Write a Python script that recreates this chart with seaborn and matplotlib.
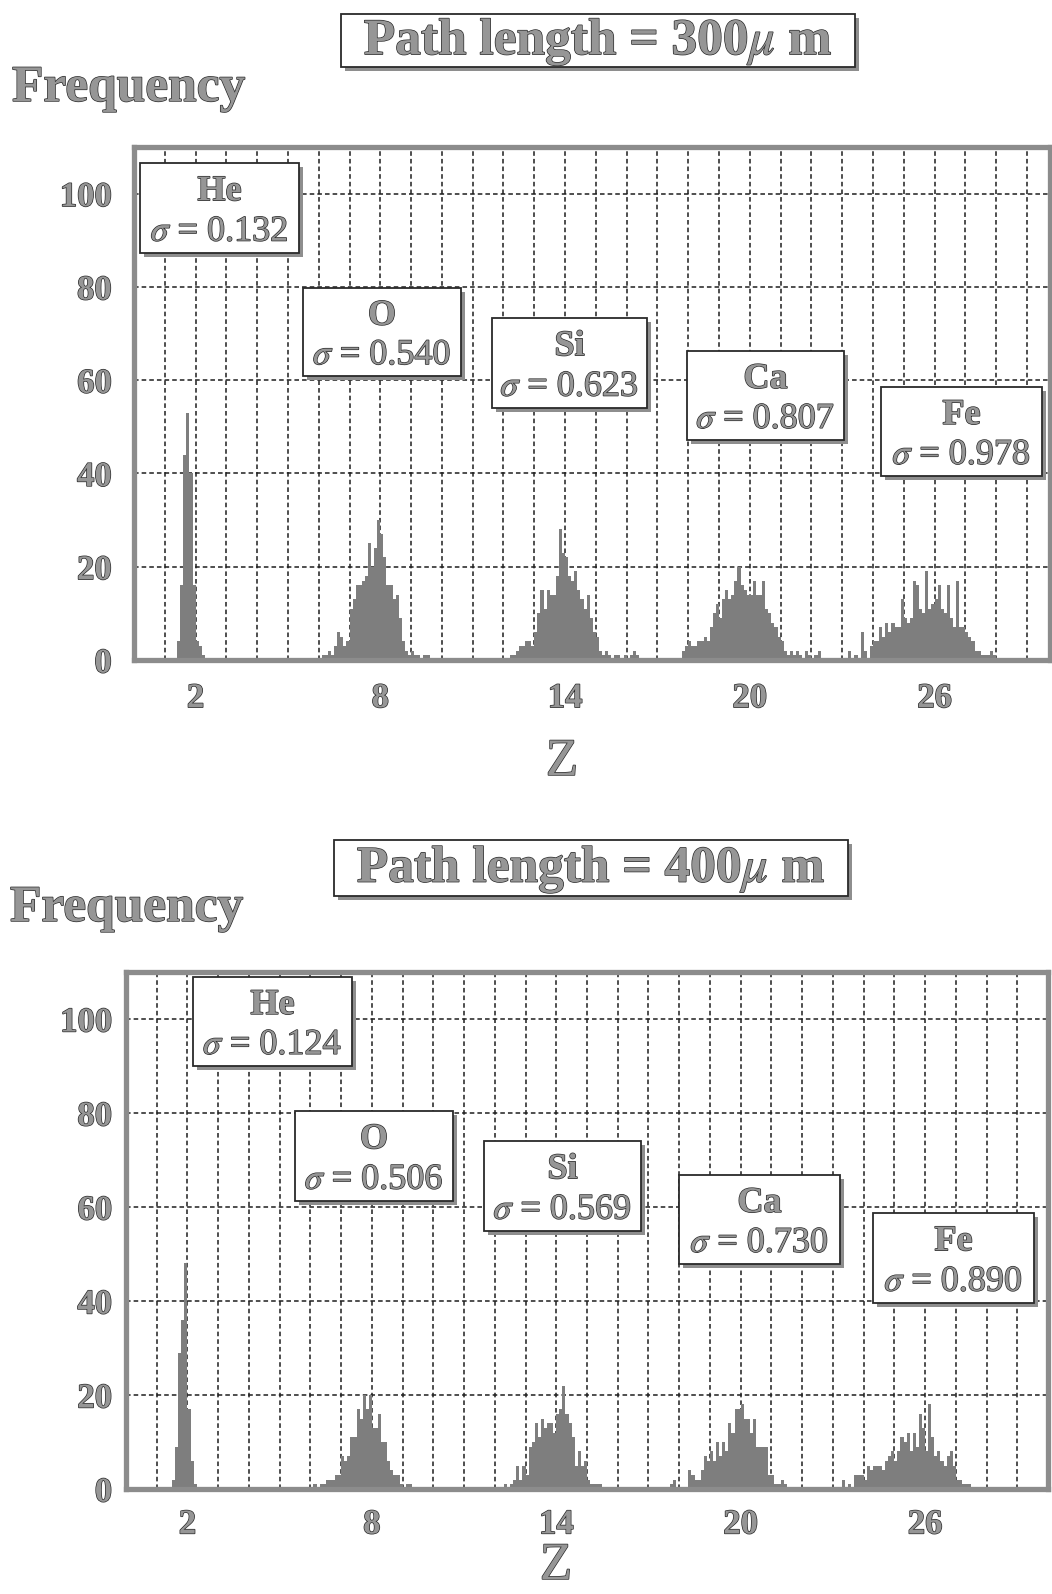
import numpy as np
import pandas as pd
import matplotlib
matplotlib.use("Agg")
import matplotlib.pyplot as plt
import seaborn as sns
from matplotlib import patheffects as pe
from matplotlib.patches import Rectangle
from matplotlib.ticker import FixedLocator, FixedFormatter

sns.set_theme(style="white")
plt.rcParams["font.family"] = ["Liberation Serif", "DejaVu Serif"]
plt.rcParams["mathtext.fontset"] = "stix"

# ---------------------------------------------------------------- data
BIN = 0.1  # width of one Z bin

elements = ["He", "O", "Si", "Ca", "Fe"]
path_lengths = [300, 400]
sigma_300 = [0.132, 0.540, 0.623, 0.807, 0.978]
sigma_400 = [0.124, 0.506, 0.569, 0.730, 0.890]

# frequency per 0.1-wide Z bin, first bin edge given by the *_start value
he_300_start = 1.4
he_300 = [4, 16, 44, 53, 40, 16, 4, 3, 1]
o_300_start = 6.1
o_300 = [1, 1, 2, 1, 3, 6, 5, 3, 4, 11, 13, 16, 16, 17, 18, 25, 20, 24, 30, 27,
         22, 16, 16, 13, 14, 9, 4, 2, 1, 2, 1, 1, 0, 1, 1]
si_300_start = 12.2
si_300 = [1, 1, 2, 3, 3, 4, 4, 3, 6, 10, 15, 11, 15, 14, 14, 18, 28, 23, 22, 18,
          17, 19, 15, 13, 11, 14, 9, 6, 5, 2, 1, 2, 1, 0, 1, 1, 0, 1, 0, 1, 2, 1]
ca_300_start = 17.8
ca_300 = [2, 3, 4, 3, 3, 4, 4, 5, 4, 7, 10, 12, 9, 13, 15, 13, 14, 17, 20, 16,
          15, 14, 14, 17, 14, 14, 17, 11, 10, 8, 7, 5, 4, 2, 1, 2, 1, 2, 1, 0,
          2, 1, 0, 1, 2]
fe_300_start = 23.2
fe_300 = [2, 0, 1, 0, 6, 2, 0, 3, 4, 4, 7, 5, 8, 6, 8, 7, 7, 13, 9, 8, 9, 17,
          16, 11, 10, 19, 11, 12, 13, 16, 11, 10, 16, 9, 7, 17, 7, 7, 6, 5, 4,
          2, 2, 1, 1, 1, 2, 1]

he_400_start = 1.5
he_400 = [2, 9, 29, 36, 48, 17, 6, 1]
o_400_start = 6.1
o_400 = [1, 0, 1, 1, 2, 2, 2, 3, 3, 7, 6, 7, 11, 11, 17, 15, 20, 17, 20, 13,
         13, 16, 10, 10, 6, 4, 3, 3, 1, 0, 1, 1]
si_400_start = 12.3
si_400 = [1, 0, 1, 2, 5, 2, 5, 3, 9, 10, 14, 11, 15, 13, 14, 14, 12, 16, 17, 22,
          16, 14, 11, 5, 8, 5, 6, 2, 1, 1, 1, 1]
ca_400_start = 17.7
ca_400 = [1, 2, 0, 0, 0, 0, 4, 3, 2, 2, 4, 7, 6, 8, 6, 10, 7, 10, 8, 14, 12, 17,
          17, 18, 15, 15, 12, 15, 9, 9, 9, 9, 3, 3, 1, 1, 2, 1]
fe_400_start = 23.3
fe_400 = [2, 0, 1, 0, 3, 3, 3, 2, 5, 4, 5, 5, 5, 4, 6, 7, 8, 6, 8, 11, 10, 12,
          8, 12, 9, 16, 13, 8, 18, 11, 7, 8, 6, 5, 7, 8, 5, 2, 2, 1, 1, 1]

series_300 = [(he_300_start, he_300), (o_300_start, o_300), (si_300_start, si_300),
              (ca_300_start, ca_300), (fe_300_start, fe_300)]
series_400 = [(he_400_start, he_400), (o_400_start, o_400), (si_400_start, si_400),
              (ca_400_start, ca_400), (fe_400_start, fe_400)]

z_labeled = [2, 8, 14, 20, 26]
y_ticks = [0, 20, 40, 60, 80, 100]

# ---------------------------------------------------------------- helpers
W, H = 1052, 1594
fig = plt.figure(figsize=(W / 100, H / 100), dpi=100)
fig.patch.set_facecolor("white")

INK = "#969696"
OUTLINE = "#2a2a2a"


def fx(x):
    return x / W


def fy(y):
    return 1 - y / H


def outlined(lw=1.0):
    return [pe.withStroke(linewidth=lw, foreground=OUTLINE)]


def put_text(x, y, s, size, weight="normal", ha="center", va="center", lw=1.0):
    fig.text(fx(x), fy(y), s, fontsize=size, fontweight=weight, ha=ha, va=va,
             color=INK, path_effects=outlined(lw), zorder=6)


def shadow_box(left, top, right, bottom, off=4, lw=1.3):
    fig.add_artist(Rectangle((fx(left + off), fy(bottom)),
                             (right - left - off) / W, (bottom - top - off) / H,
                             transform=fig.transFigure, facecolor="#8e8e8e",
                             edgecolor="none", zorder=4))
    fig.add_artist(Rectangle((fx(left), fy(bottom - off)),
                             (right - left - off) / W, (bottom - top - off) / H,
                             transform=fig.transFigure, facecolor="white",
                             edgecolor="#2a2a2a", linewidth=lw, zorder=5))


centers = np.round(np.arange(BIN / 2, 30.0, BIN), 3)


def binned(series):
    counts = np.zeros(len(centers))
    for start, vals in series:
        i0 = int(round(start / BIN))
        counts[i0:i0 + len(vals)] += np.asarray(vals, dtype=float)
    return pd.DataFrame({"Z": centers, "freq": counts})


# ---------------------------------------------------------------- layout
panels = [
    dict(length=path_lengths[0], series=series_300, sigmas=sigma_300,
         ax_px=(134, 147, 1050, 660), xmax=29.75, ypad=16, xpad=16,
         title_box=(341, 14, 859, 71), freq_xy=(12, 89), z_xy=(562, 762),
         boxes=[(140, 163, 303, 257), (303, 288, 465, 380), (492, 318, 651, 412),
                (687, 351, 848, 444), (881, 387, 1046, 480)]),
    dict(length=path_lengths[1], series=series_400, sigmas=sigma_400,
         ax_px=(126, 972, 1048, 1489), xmax=30.0, ypad=10, xpad=14,
         title_box=(334, 840, 852, 900), freq_xy=(10, 909), z_xy=(556, 1566),
         boxes=[(193, 977, 356, 1070), (295, 1111, 457, 1205), (484, 1141, 645, 1235),
                (679, 1175, 844, 1268), (873, 1213, 1038, 1307)]),
]

for p in panels:
    l, t, r, b = p["ax_px"]
    ax = fig.add_axes([fx(l), fy(b), (r - l) / W, (b - t) / H])
    ax.set_facecolor("white")

    df = binned(p["series"])
    sns.histplot(data=df, x="Z", weights="freq", binwidth=BIN, binrange=(0, 30),
                 ax=ax, color="#7e7e7e", alpha=1.0, linewidth=0, element="bars")

    ax.set_xlim(0, p["xmax"])
    ax.set_ylim(0, 110)
    ax.set_xlabel("")
    ax.set_ylabel("")

    xt = list(range(1, int(p["xmax"]) + 1))
    ax.xaxis.set_major_locator(FixedLocator(xt))
    ax.xaxis.set_major_formatter(FixedFormatter(
        [str(z) if z in z_labeled else "" for z in xt]))
    ax.yaxis.set_major_locator(FixedLocator(y_ticks))

    ax.set_axisbelow(True)
    ax.grid(True, which="major", linestyle=(0, (3, 2)), color="#1e1e1e",
            linewidth=1.1)
    ax.tick_params(axis="both", direction="in", length=7, width=2.5,
                   color="#8a8a8a", labelsize=25, labelcolor=INK)
    ax.tick_params(axis="x", pad=p["xpad"])
    ax.tick_params(axis="y", pad=p["ypad"])
    for lab in ax.get_xticklabels() + ax.get_yticklabels():
        lab.set_fontweight("bold")
        lab.set_path_effects(outlined(1.0))
    for sp in ax.spines.values():
        sp.set_visible(True)
        sp.set_color("#8c8c8c")
        sp.set_linewidth(3.8)

    # element boxes
    for (bl, bt, br, bb), el, sg in zip(p["boxes"], elements, p["sigmas"]):
        shadow_box(bl, bt, br, bb)
        cx = (bl + br - 4) / 2
        hgt = bb - bt - 4
        put_text(cx, bt + 0.32 * hgt, el, 26, weight="bold")
        put_text(cx, bt + 0.77 * hgt, r"$\sigma$ = %.3f" % sg, 26)

    # title box, axis titles
    tl, tt, tr, tb = p["title_box"]
    shadow_box(tl, tt, tr, tb, off=4, lw=1.3)
    put_text((tl + tr - 4) / 2, (tt + tb - 4) / 2 + 2,
             r"Path length = %d$\mu$ m" % p["length"], 37, weight="bold")
    put_text(p["freq_xy"][0], p["freq_xy"][1], "Frequency", 37, weight="bold",
             ha="left")
    put_text(p["z_xy"][0], p["z_xy"][1], "Z", 38)

fig.savefig("out.png", dpi=100, facecolor="white")
